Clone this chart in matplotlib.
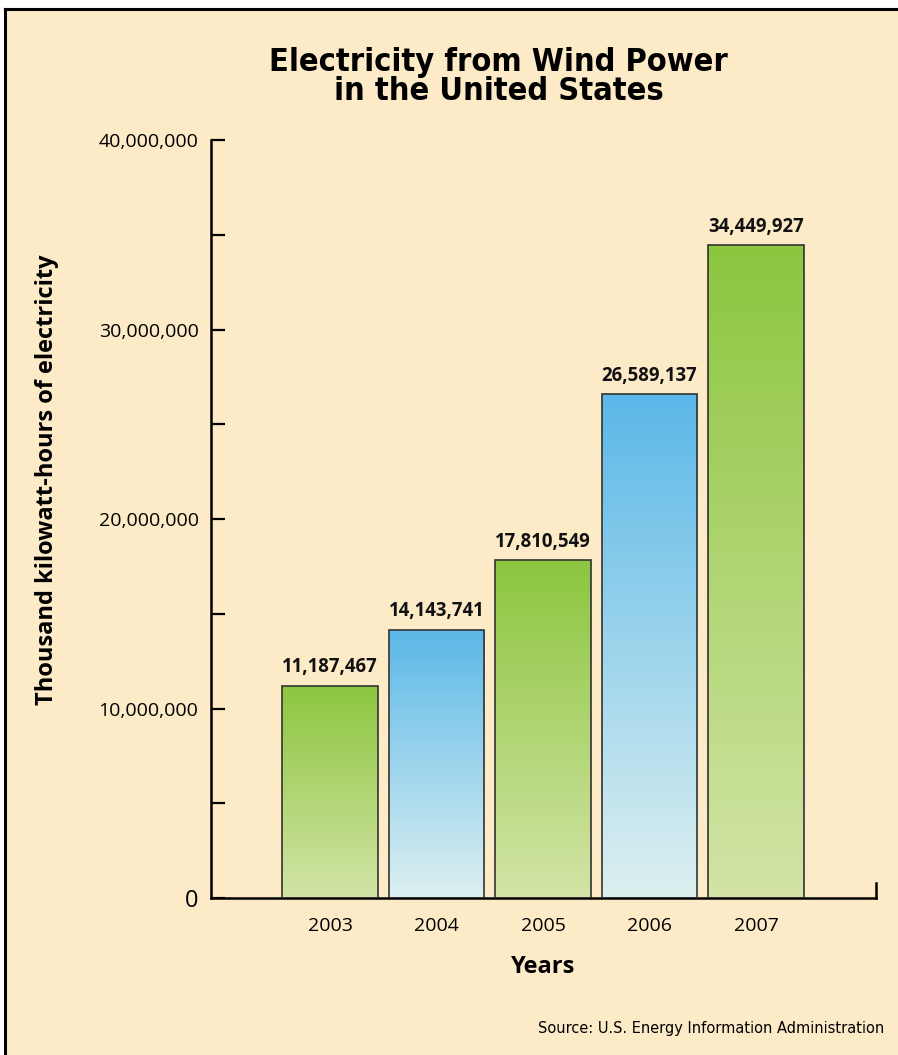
import numpy as np
import matplotlib.pyplot as plt
from matplotlib.colors import LinearSegmentedColormap
from matplotlib.patches import Rectangle
from matplotlib.lines import Line2D
from matplotlib.ticker import MultipleLocator, FuncFormatter

years = ["2003", "2004", "2005", "2006", "2007"]
values = [11187467, 14143741, 17810549, 26589137, 34449927]
y_ticks = [0, 10000000, 20000000, 30000000, 40000000]

bg = "#fdebc8"
green = LinearSegmentedColormap.from_list("g", ["#d3e4a6", "#8cc63f"])
blue = LinearSegmentedColormap.from_list("b", ["#ddf0f0", "#5bb8e8"])
bar_maps = [green, blue, green, blue, green]

plt.rcParams['font.family'] = ['Open Sans', 'DejaVu Sans']
plt.rcParams['font.stretch'] = 'normal'

fig = plt.figure(figsize=(8.98, 10.55), dpi=100, facecolor="white")
# cream panel with black border on top and left
fig.patches.append(Rectangle((5 / 898, 0), 1, 1 - 9 / 1055, transform=fig.transFigure,
                             facecolor=bg, edgecolor="none", zorder=-2))
fig.lines.append(Line2D([5 / 898, 1], [1 - 9 / 1055] * 2, transform=fig.transFigure,
                        color="black", lw=2.2, zorder=-1))
fig.lines.append(Line2D([5 / 898] * 2, [0, 1 - 9 / 1055], transform=fig.transFigure,
                        color="black", lw=2.2, zorder=-1))

ax = fig.add_axes([0.235, 0.1488, 0.7405, 0.7185])
ax.set_facecolor(bg)

x = np.arange(len(years))
width = 0.9
bars = ax.bar(x, values, width=width, color="none", edgecolor="#333333",
              linewidth=1.2, zorder=3)

# gradient fill clipped to each bar
grad = np.linspace(0, 1, 256).reshape(-1, 1)
for b, cm in zip(bars, bar_maps):
    x0, w, h = b.get_x(), b.get_width(), b.get_height()
    im = ax.imshow(grad, cmap=cm, origin="lower", aspect="auto",
                   extent=[x0, x0 + w, 0, h], zorder=2)
    im.set_clip_path(b)
    ax.text(x0 + w / 2, h + 450000, f"{h:,.0f}", ha="center", va="bottom",
            fontsize=13.4, fontweight="bold", color="#111111")

ax.set_xlim(-1.117, 5.127)
ax.set_ylim(0, 40000000)
ax.set_xticks(x)
ax.set_xticklabels(years, fontsize=14)
ax.set_yticks(y_ticks)
ax.yaxis.set_major_formatter(FuncFormatter(lambda v, p: f"{v:,.0f}"))
ax.yaxis.set_minor_locator(MultipleLocator(5000000))
ax.tick_params(axis="y", which="both", direction="in", length=10, width=1.6,
               labelsize=14, pad=9)
ax.tick_params(axis="x", length=0, pad=14)
for lab in ax.get_yticklabels():
    if lab.get_text() == "0":
        lab.set_fontsize(17)

for s in ["top", "right"]:
    ax.spines[s].set_visible(False)
ax.spines["left"].set_linewidth(1.8)
ax.spines["bottom"].set_linewidth(1.8)
ax.plot([1, 1], [0, 0.02], transform=ax.transAxes, color="black",
        lw=1.8, clip_on=False)

ax.set_xlabel("Years", fontsize=17, fontweight="bold", labelpad=14)
fig.text(0.052, 0.545, "Thousand kilowatt-hours of electricity", rotation=90,
         ha="center", va="center", fontsize=17, fontweight="bold")

fig.text(0.555, 0.927, "Electricity from Wind Power\nin the United States",
         ha="center", va="center", fontsize=23.3, fontweight="bold",
         family="DejaVu Sans", fontstretch="condensed", linespacing=0.95)
fig.text(0.985, 0.025, "Source: U.S. Energy Information Administration",
         ha="right", va="center", fontsize=11.7,
         family="DejaVu Sans", fontstretch="condensed")

fig.savefig("out.png", dpi=100, facecolor="white")
